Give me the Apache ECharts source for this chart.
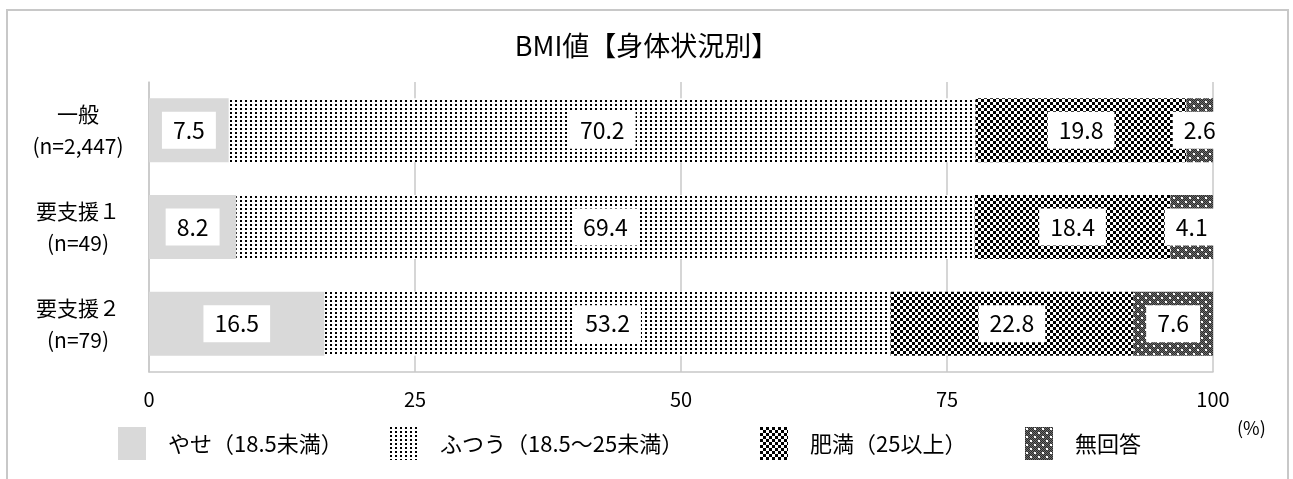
<!DOCTYPE html>
<html>
<head>
<meta charset="utf-8">
<script src="https://cdn.jsdelivr.net/npm/echarts@6/dist/echarts.min.js"></script>
<style>
html,body{margin:0;padding:0;background:#fff;}
#c{width:1293px;height:479px;}
</style>
</head>
<body>
<div id="c"></div>
<script>
const categories = ['一般\n(n=2,447)', '要支援１\n(n=49)', '要支援２\n(n=79)'];
const seriesNames = ['やせ（18.5未満）', 'ふつう（18.5～25未満）', '肥満（25以上）', '無回答'];
const yase = [7.5, 8.2, 16.5];
const futsuu = [70.2, 69.4, 53.2];
const himan = [19.8, 18.4, 22.8];
const mukaitou = [2.6, 4.1, 7.6];
const xTicks = [0, 25, 50, 75, 100];

function tile(w, h, draw) {
  const c = document.createElement('canvas');
  c.width = w; c.height = h;
  const g = c.getContext('2d');
  draw(g);
  return { image: c, repeat: 'repeat' };
}
const patFutsuu = tile(5, 4, g => {
  g.fillStyle = '#fff'; g.fillRect(0, 0, 5, 4);
  g.fillStyle = '#000'; g.fillRect(0, 0, 2, 2);
});
const patHiman = tile(6, 6, g => {
  g.fillStyle = '#fff'; g.fillRect(0, 0, 6, 6);
  g.fillStyle = '#000'; g.fillRect(0, 0, 3, 3); g.fillRect(3, 3, 3, 3);
});
const patMukaitou = tile(8, 8, g => {
  g.fillStyle = '#6e6e6e'; g.fillRect(0, 0, 8, 8);
  g.fillStyle = '#2a2a2a';
  for (let y = 0; y < 8; y++) for (let x = 0; x < 8; x++) if ((x + y) % 2 === 0) g.fillRect(x, y, 1, 1);
  g.fillStyle = '#fff'; g.fillRect(1, 1, 2, 2); g.fillRect(5, 5, 2, 2);
});

const colors = ['#d9d9d9', patFutsuu, patHiman, patMukaitou];
const values = [yase, futsuu, himan, mukaitou];
const FONT = '"Noto Sans CJK JP", sans-serif';
const legendLefts = [113, 385, 755, 1020];

const chart = echarts.init(document.getElementById('c'), null, { renderer: 'canvas' });
chart.setOption({
  animation: false,
  backgroundColor: '#fff',
  title: {
    text: 'BMI値【身体状況別】',
    left: 'center', top: 27,
    textStyle: { fontFamily: FONT, fontSize: 27, fontWeight: 'normal', color: '#000' }
  },
  graphic: [
    { type: 'rect', shape: { x: 7, y: 10, width: 1281, height: 500 }, style: { fill: 'none', stroke: '#c8c8c8', lineWidth: 2 }, silent: true },
    { type: 'text', left: 1237, top: 419, style: { text: '(%)', fontFamily: FONT, fontSize: 18, fill: '#000' } }
  ],
  legend: seriesNames.map((n, i) => ({
    bottom: 14, left: legendLefts[i],
    itemWidth: 28, itemHeight: 33,
    textStyle: { fontFamily: FONT, fontSize: 22, color: '#000', padding: [0, 0, 0, 17] },
    data: [{ name: n, icon: 'rect' }]
  })),
  grid: { left: 149, right: 80, top: 82, bottom: 107 },
  xAxis: {
    type: 'value', min: 0, max: 100, interval: 25,
    axisLine: { show: true, lineStyle: { color: '#c8c8c8', width: 1.5 } },
    axisTick: { show: false },
    splitLine: { show: true, lineStyle: { color: '#c8c8c8', width: 1.5 } },
    axisLabel: { fontFamily: FONT, fontSize: 20, color: '#000', margin: 17,
      formatter: v => xTicks.includes(v) ? String(v) : '' }
  },
  yAxis: {
    type: 'category', inverse: true, data: categories,
    axisLine: { show: true, lineStyle: { color: '#c8c8c8', width: 1.5 } },
    axisTick: { show: false },
    axisLabel: { fontFamily: FONT, fontSize: 21, color: '#000', align: 'center', margin: 71, lineHeight: 32 }
  },
  series: seriesNames.map((n, i) => ({
    name: n, type: 'bar', stack: 'total', barWidth: 64,
    data: values[i],
    itemStyle: { color: colors[i] },
    label: {
      show: true, position: 'inside',
      formatter: p => p.value.toFixed(1),
      fontFamily: FONT, fontSize: 23, color: '#000',
      backgroundColor: '#fff', padding: [8, 11, 6, 11]
    }
  }))
});
</script>
</body>
</html>
